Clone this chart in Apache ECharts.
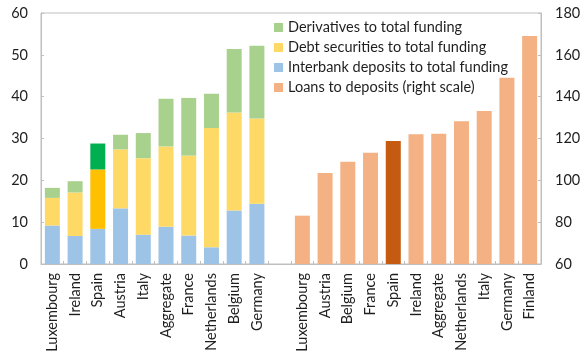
<!DOCTYPE html>
<html>
<head>
<meta charset="utf-8">
<script src="https://cdn.jsdelivr.net/npm/echarts@6/dist/echarts.min.js"></script>
<style>
  html, body { margin: 0; padding: 0; background: #fff; }
  #chart { width: 586px; height: 360px; }
</style>
</head>
<body>
<div id="chart"></div>
<script>
// Funding structure (left scale, % of total funding)
const fundingCountries = ['Luxembourg', 'Ireland', 'Spain', 'Austria', 'Italy', 'Aggregate', 'France', 'Netherlands', 'Belgium', 'Germany'];
const interbank  = [9.2, 6.7, 8.4, 13.3, 7.0, 8.9, 6.8, 4.0, 12.8, 14.4];
const debtSec    = [6.6, 10.4, 14.2, 14.1, 18.3, 19.2, 19.1, 28.5, 23.4, 20.4];
const derivatives = [2.4, 2.7, 6.2, 3.5, 6.0, 11.4, 13.8, 8.2, 15.2, 17.4];

// Loans to deposits (right scale, %)
const ltdCountries = ['Luxembourg', 'Austria', 'Belgium', 'France', 'Spain', 'Ireland', 'Aggregate', 'Netherlands', 'Italy', 'Germany', 'Finland'];
const loansToDeposits = [83.1, 103.5, 108.9, 113.2, 118.8, 122.0, 122.3, 128.2, 133.1, 149.1, 169.0];

const leftTicks = { min: 0, max: 60, interval: 10 };
const rightTicks = { min: 60, max: 180, interval: 20 };

const highlight = 'Spain';
const colors = {
  interbank: '#9DC3E6', debt: '#FFD966', deriv: '#A9D18E', loans: '#F4B183',
  interbankHi: '#9DC3E6', debtHi: '#FFC000', derivHi: '#00B050', loansHi: '#C55A11'
};

// One shared category axis: left panel, an empty spacer slot, right panel
const categories = fundingCountries.concat([''], ltdCountries);
const pad = n => new Array(n).fill(null);

function leftData(values, hiColor) {
  const d = values.map((v, i) => fundingCountries[i] === highlight
    ? { value: v, itemStyle: { color: hiColor } } : v);
  return d.concat(pad(1 + ltdCountries.length));
}
function rightData(values, hiColor) {
  const d = values.map((v, i) => ltdCountries[i] === highlight
    ? { value: v, itemStyle: { color: hiColor } } : v);
  return pad(fundingCountries.length + 1).concat(d);
}

const font = 'Lato';
const fontSize = 14.5;
const textColor = '#1e1e1e';
const axisGray = '#BFBFBF';

const chart = echarts.init(document.getElementById('chart'), null, { renderer: 'canvas' });

const barCommon = { barCategoryGap: '34%', barGap: '-100%' };

chart.setOption({
  animation: false,
  textStyle: { fontFamily: font },
  grid: {
    left: 41, right: 45, top: 13, bottom: 96,
    show: true, borderColor: axisGray, borderWidth: 1, backgroundColor: 'transparent'
  },
  legend: {
    orient: 'vertical',
    left: 274, top: 20, padding: 0,
    itemWidth: 9, itemHeight: 9, itemGap: 5, itemTextGap: 5,
    icon: 'rect',
    textStyle: { fontFamily: font, fontSize: fontSize, lineHeight: 15, color: textColor },
    data: [
      { name: 'Derivatives to total funding', itemStyle: { color: colors.deriv } },
      { name: 'Debt securities to total funding', itemStyle: { color: colors.debt } },
      { name: 'Interbank deposits to total funding', itemStyle: { color: colors.interbank } },
      { name: 'Loans to deposits (right scale)', itemStyle: { color: colors.loans } }
    ]
  },
  xAxis: {
    type: 'category',
    data: categories,
    boundaryGap: true,
    axisLine: { lineStyle: { color: axisGray, width: 1 } },
    axisTick: { show: true, inside: true, length: 3, interval: 0, alignWithLabel: false, lineStyle: { color: axisGray } },
    axisLabel: { interval: 0, rotate: 90, margin: 9, fontFamily: font, fontSize: fontSize, color: textColor }
  },
  yAxis: [
    {
      type: 'value', position: 'left',
      min: leftTicks.min, max: leftTicks.max, interval: leftTicks.interval,
      splitLine: { show: false },
      axisLine: { show: true, lineStyle: { color: axisGray } },
      axisTick: { show: true, inside: true, length: 3, lineStyle: { color: axisGray } },
      axisLabel: { margin: 13, fontFamily: font, fontSize: fontSize, color: textColor }
    },
    {
      type: 'value', position: 'right',
      min: rightTicks.min, max: rightTicks.max, interval: rightTicks.interval,
      splitLine: { show: false },
      axisLine: { show: true, lineStyle: { color: axisGray } },
      axisTick: { show: true, inside: true, length: 3, lineStyle: { color: axisGray } },
      axisLabel: { margin: 14, fontFamily: font, fontSize: fontSize, color: textColor }
    }
  ],
  series: [
    Object.assign({
      name: 'Interbank deposits to total funding', type: 'bar', stack: 'funding', yAxisIndex: 0,
      itemStyle: { color: colors.interbank },
      data: leftData(interbank, colors.interbankHi)
    }, barCommon),
    Object.assign({
      name: 'Debt securities to total funding', type: 'bar', stack: 'funding', yAxisIndex: 0,
      itemStyle: { color: colors.debt },
      data: leftData(debtSec, colors.debtHi)
    }, barCommon),
    Object.assign({
      name: 'Derivatives to total funding', type: 'bar', stack: 'funding', yAxisIndex: 0,
      itemStyle: { color: colors.deriv },
      data: leftData(derivatives, colors.derivHi)
    }, barCommon),
    Object.assign({
      name: 'Loans to deposits (right scale)', type: 'bar', yAxisIndex: 1,
      itemStyle: { color: colors.loans },
      data: rightData(loansToDeposits, colors.loansHi)
    }, barCommon)
  ]
});
</script>
</body>
</html>
